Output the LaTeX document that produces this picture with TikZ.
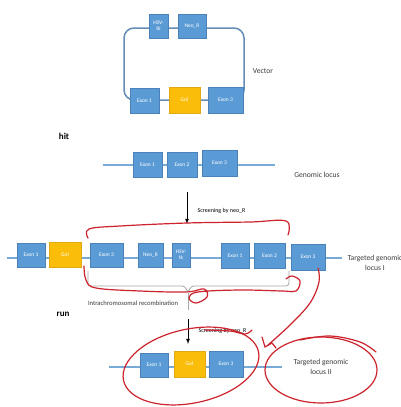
\documentclass[tikz,border=0pt]{standalone}
\usepackage{fontspec}
\setmainfont{Carlito}
\usepackage{xcolor}
\usepackage{tikz}
\usetikzlibrary{calc}
\definecolor{exonblue}{RGB}{91,155,213}
\definecolor{exonedge}{RGB}{75,130,185}
\definecolor{golyellow}{RGB}{250,190,10}
\definecolor{goledge}{RGB}{225,170,20}
\definecolor{locusblue}{RGB}{120,170,215}
\definecolor{loopgrey}{RGB}{100,140,180}
\definecolor{penred}{RGB}{205,35,45}
\definecolor{labelgrey}{RGB}{60,60,60}

\begin{document}
\begin{tikzpicture}[
  x=1pt, y=-1pt,
  exon/.style={draw=exonedge, fill=exonblue, text=white, inner sep=0pt,
    font=\fontsize{5.5}{6}\selectfont, align=center, line width=0.5pt},
  gol/.style={exon, fill=golyellow, draw=goledge},
  dna/.style={locusblue, line width=1.6pt},
  lbl/.style={text=labelgrey, font=\fontsize{7.6}{9.5}\selectfont, align=center},
  scr/.style={text=black, font=\fontsize{6}{7}\selectfont, anchor=west},
  arr/.style={-latex, thick},
  scribble/.style={penred, line width=1.2pt, line cap=round, line join=round}
]
\useasboundingbox[fill=white] (0,0) rectangle (401,407);

% vector
\draw[loopgrey, line width=1.5pt, rounded corners=10pt] (124,28) rectangle (244,100);
\node[exon, minimum width=19pt, minimum height=24pt] (vhsv) at (158.5,26) {HSV-\\tk};
\node[exon, minimum width=28pt, minimum height=24pt] (vneo) at (192,26) {Neo\_R};
\node[exon, minimum width=29pt, minimum height=25pt] (vex1) at (144.5,100.5) {Exon 1};
\node[gol, minimum width=31pt, minimum height=26pt] (vgol) at (184.5,100) {Gol};
\node[exon, minimum width=35pt, minimum height=26pt] (vex3) at (225.5,100) {Exon 3};
\node[lbl] (vector) at (263,71) {Vector};

\node[font=\fontsize{9}{10}\selectfont\bfseries] (hit) at (64,136) {hit};

% genomic locus
\coordinate (gL) at (103,165);
\coordinate (gR) at (275,165);
\draw[dna] (gL) -- (gR);
\node[exon, minimum width=29pt, minimum height=25pt] (gex1) at (147.5,164.5) {Exon 1};
\node[exon, minimum width=30pt, minimum height=25pt] (gex2) at (182,164.5) {Exon 2};
\node[exon, minimum width=35pt, minimum height=26pt] (gex3) at (219.5,163) {Exon 3};
\node[lbl] (genomic) at (317,175) {Genomic locus};

\coordinate (s1top) at (187,192);
\coordinate (s1bot) at (187,224);
\draw[arr] (s1top) -- (s1bot);
\node[scr] (screen1) at (194,211) {Screening by neo\_R};

% targeted locus I
\coordinate (tL) at (7,258);
\coordinate (tR) at (342,258);
\draw[dna] (tL) -- (tR);
\node[exon, minimum width=28pt, minimum height=24pt] (tex1) at (31,255) {Exon 1};
\node[gol, minimum width=32pt, minimum height=25pt] (tgol) at (65,255) {Gol};
\node[exon, minimum width=33pt, minimum height=24pt] (tex3a) at (106.5,255) {Exon 3};
\node[exon, minimum width=25pt, minimum height=24pt] (tneo) at (150.5,255) {Neo\_R};
\node[exon, minimum width=18pt, minimum height=24pt] (thsv) at (181,255) {HSV-\\tk};
\node[exon, minimum width=28pt, minimum height=25pt] (tex1b) at (235,256) {Exon 1};
\node[exon, minimum width=31pt, minimum height=25pt] (tex2b) at (269.5,256) {Exon 2};
\node[exon, minimum width=34pt, minimum height=26pt] (tex3b) at (308,257) {Exon 3};
\node[lbl, anchor=west] (locusI) at (344,263) {Targeted genomic\\locus I};

% bracket
\coordinate (bL) at (88,271);
\coordinate (bR) at (289,271);
\coordinate (bTip) at (188,293);
\coordinate (bEnd) at (188,310);
\draw[gray!70, line width=0.8pt, rounded corners=3pt]
  (bL) -- (88,286) -- (185,286) -- (bTip) -- (191,286) -- (289,286) -- (bR);
\draw[gray!70, line width=0.8pt] (bTip) -- (bEnd);
\node[lbl, font=\fontsize{6.6}{8}\selectfont] (intra) at (133,303) {Intrachromosomal recombination};

\node[font=\fontsize{9}{10}\selectfont\bfseries] (run) at (63,314) {run};

\coordinate (s2top) at (188,319);
\coordinate (s2bot) at (188,344);
\draw[arr] (s2top) -- (s2bot);
\node[scr] (screen2) at (195,331) {Screening by neo\_R};

% targeted locus II
\coordinate (fL) at (109,367);
\coordinate (fR) at (282,367);
\draw[dna] (fL) -- (fR);
\node[exon, minimum width=28pt, minimum height=24pt] (fex1) at (154,365) {Exon 1};
\node[gol, minimum width=31pt, minimum height=26pt] (fgol) at (189.5,364) {Gol};
\node[exon, minimum width=34pt, minimum height=26pt] (fex3) at (226,364) {Exon 3};
\node[lbl] (locusII) at (321,367) {Targeted genomic\\locus II};

% red pen marks
\draw[scribble] plot[smooth, tension=0.6] coordinates
  {(88,238) (89,229) (120,226) (187,223) (250,222) (286,221) (288,235)};
\draw[scribble] plot[smooth, tension=0.6] coordinates
  {(84,266) (86,280) (96,288) (140,291) (186,292) (204,289) (207,297) (196,303) (189,298) (198,292) (240,290) (282,291) (296,291) (300,281) (292,276) (286,279)};
\draw[scribble] plot[smooth, tension=0.6] coordinates
  {(318,268) (319,282) (310,303) (290,325) (268,345)};
\draw[scribble] (262,337) -- (265,347) -- (272,343) -- (276,348);
\draw[scribble, rotate around={12:(191,366)}] (191,366) ellipse [x radius=69, y radius=37];
\draw[scribble] plot[smooth, tension=0.6] coordinates
  {(205,330) (230,331) (245,334) (252,330)};
\draw[scribble] (321,370) ellipse [x radius=56, y radius=33];
\draw[scribble] plot[smooth, tension=0.6] coordinates
  {(300,340) (330,336) (360,342) (376,352)};
\end{tikzpicture}
\end{document}
